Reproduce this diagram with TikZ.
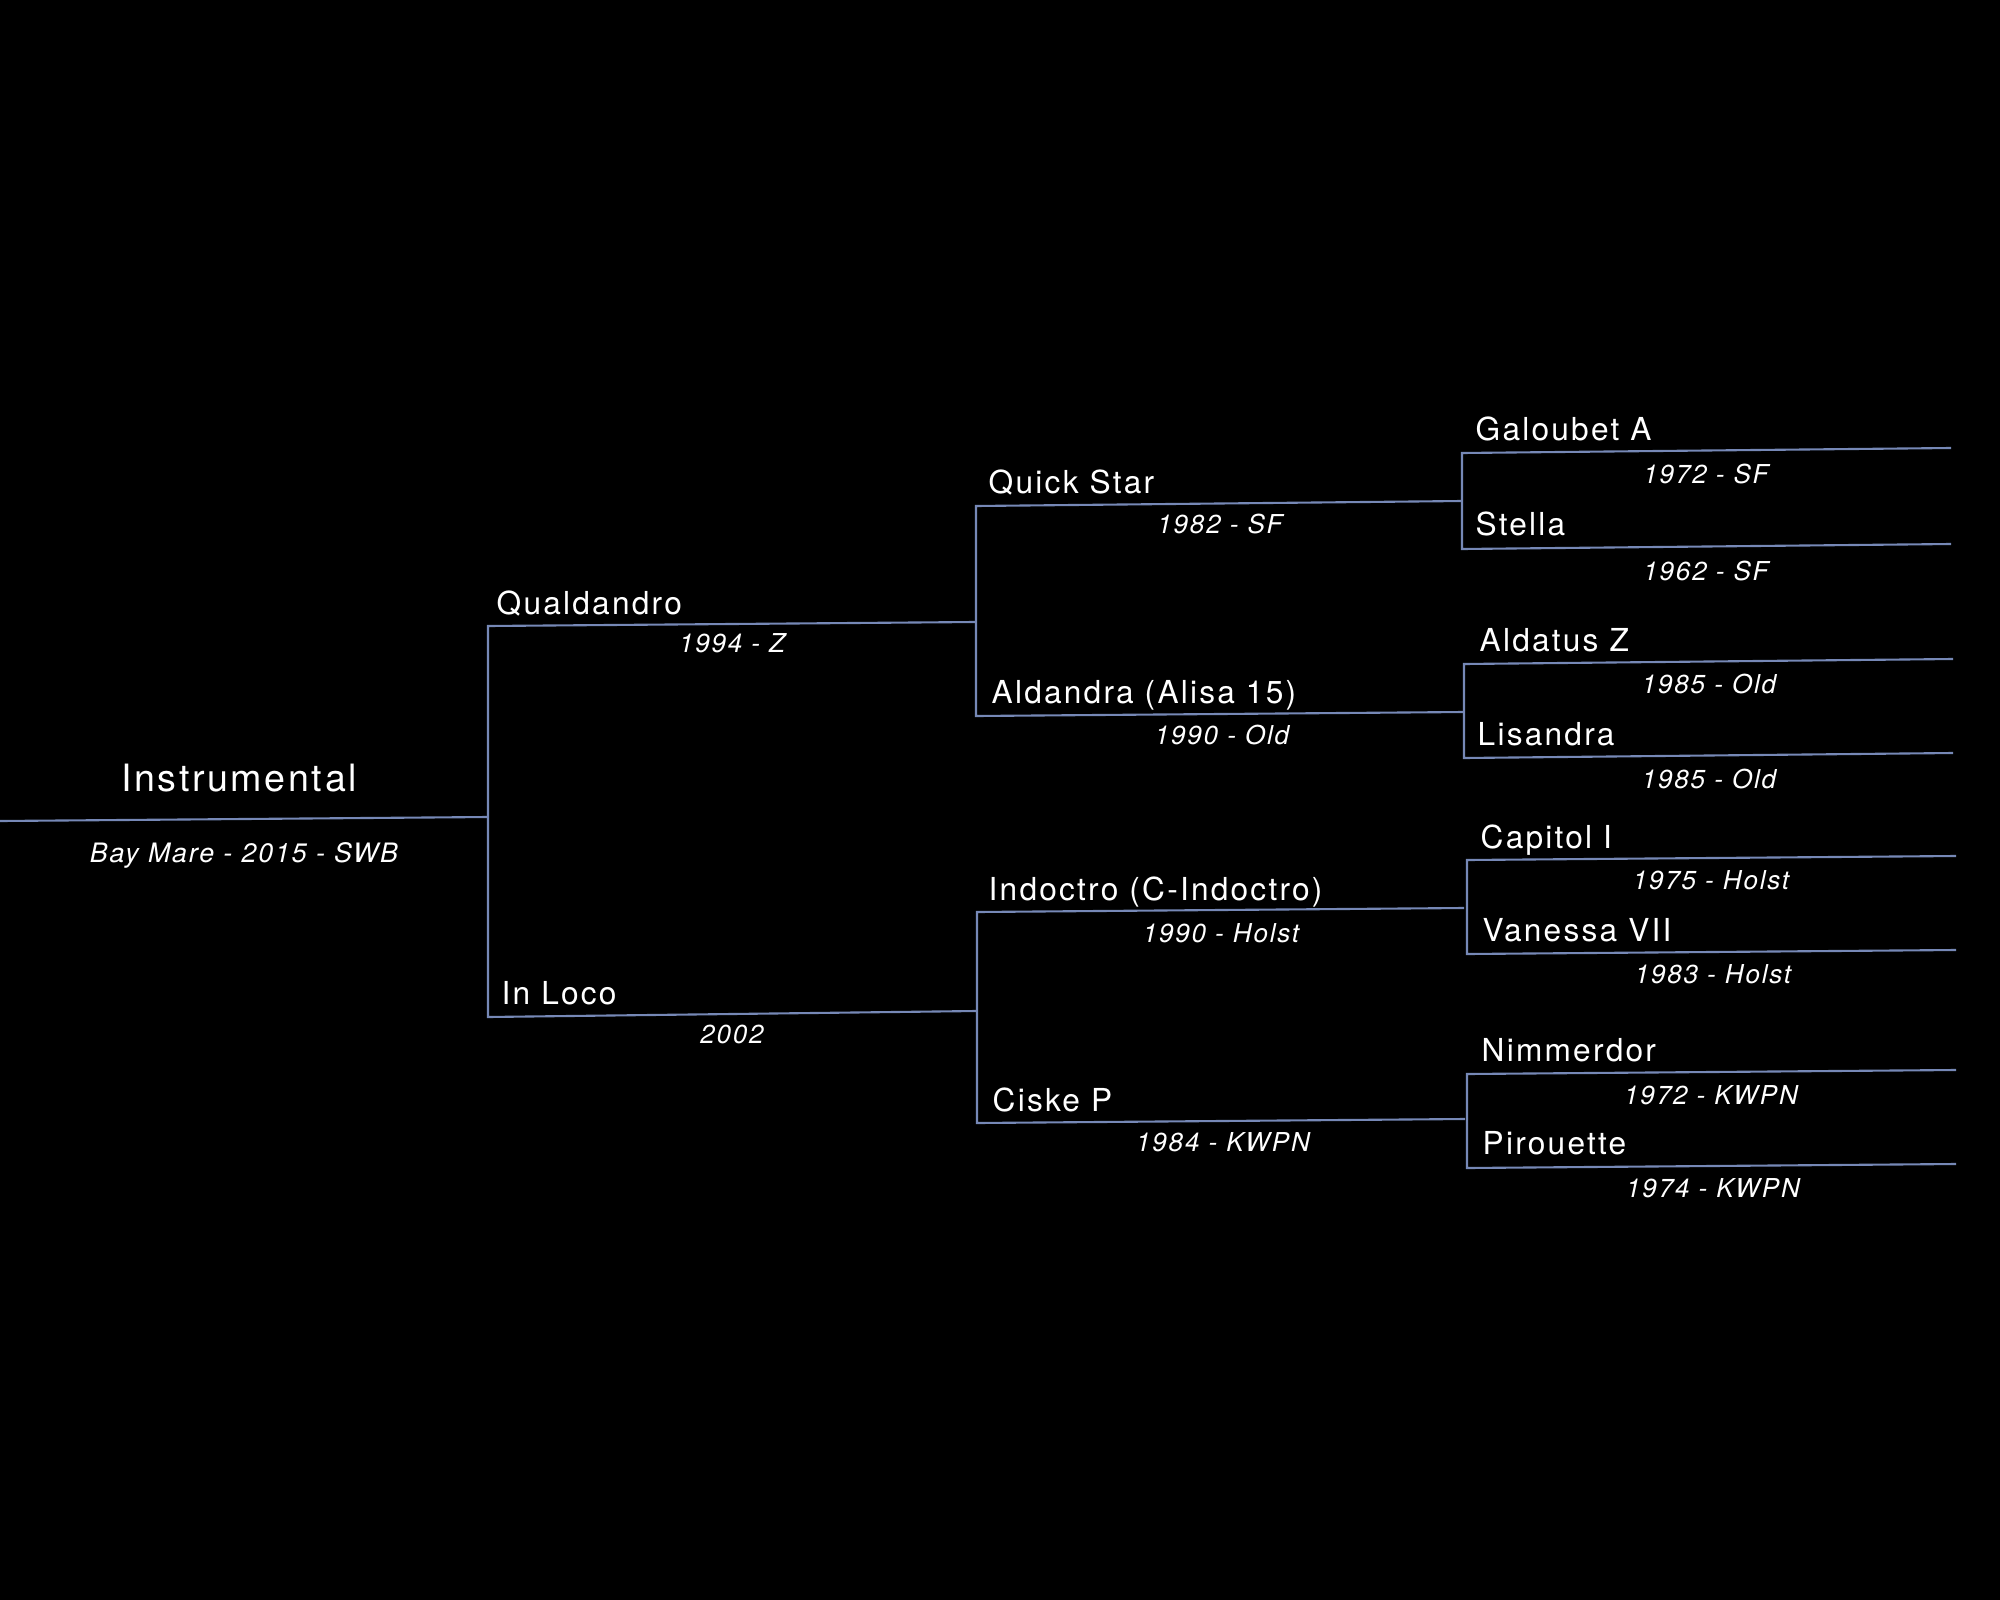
\documentclass[tikz,border=0pt]{standalone}
\usepackage{fontspec}
\setmainfont{TeX Gyre Heros}[LetterSpace=7]
\definecolor{treeline}{RGB}{118,136,182}
\tikzset{
    branch/.style={draw=treeline, line width=0.6pt},
    horse/.style={anchor=base west, inner sep=0pt, text=white, font=\fontsize{9}{11}\selectfont},
    info/.style={anchor=base, inner sep=0pt, text=white, font=\fontsize{7.4}{9}\selectfont\itshape},
}
\begin{document}
\begin{tikzpicture}[x=0.01cm, y=-0.01cm]
    % Background and page size
    \fill[black] (0,0) rectangle (2000,1600);
    \useasboundingbox (0,0) rectangle (2000,1600);

    % Line ends of every generation
    \coordinate (root-l) at (0,821);    \coordinate (root-r) at (488,817);
    \coordinate (qu-l) at (488,626);    \coordinate (qu-r) at (975,622);
    \coordinate (il-l) at (488,1017);   \coordinate (il-r) at (976,1011);
    \coordinate (qs-l) at (976,506);    \coordinate (qs-r) at (1462,501);
    \coordinate (al-l) at (976,716);    \coordinate (al-r) at (1464,712);
    \coordinate (in-l) at (977,912);    \coordinate (in-r) at (1464,908);
    \coordinate (cp-l) at (977,1123);   \coordinate (cp-r) at (1465,1119);
    \coordinate (ga-l) at (1462,453);   \coordinate (ga-r) at (1951,448);
    \coordinate (st-l) at (1462,549);   \coordinate (st-r) at (1951,544);
    \coordinate (ad-l) at (1464,664);   \coordinate (ad-r) at (1953,659);
    \coordinate (li-l) at (1464,758);   \coordinate (li-r) at (1953,753);
    \coordinate (ca-l) at (1467,860);   \coordinate (ca-r) at (1956,856);
    \coordinate (va-l) at (1467,954);   \coordinate (va-r) at (1956,950);
    \coordinate (ni-l) at (1467,1074);  \coordinate (ni-r) at (1956,1070);
    \coordinate (pi-l) at (1467,1168);  \coordinate (pi-r) at (1956,1164);

    % The horse itself
    \draw[branch] (root-l) -- (root-r);

    % Sire and dam brackets
    \foreach \s/\d in {qu/il, qs/al, in/cp, ga/st, ad/li, ca/va, ni/pi}
        {
            \draw[branch] (\s-r) -- (\s-l) -- (\d-l) -- (\d-r);
        }

    % Names and dates
    \node[anchor=base, inner sep=0pt, text=white, font=\fontsize{10.7}{12}\selectfont] (instrumental) at (239,791) {Instrumental};
    \node[info, font=\fontsize{7.6}{9}\selectfont\itshape] (instrumental-info) at (244,862) {Bay Mare - 2015 - SWB};

    \node[horse] (qualdandro) at (496,614) {Qualdandro};
    \node[info] (qualdandro-info) at (732,652) {1994 - Z};
    \node[horse] (inloco) at (501,1004) {In Loco};
    \node[info] (inloco-info) at (732,1043) {2002};

    \node[horse] (quickstar) at (988,493) {Quick Star};
    \node[info] (quickstar-info) at (1220,533) {1982 - SF};
    \node[horse] (aldandra) at (991,703) {Aldandra (Alisa 15)};
    \node[info] (aldandra-info) at (1222,744) {1990 - Old};
    \node[horse] (indoctro) at (988,900) {Indoctro (C-Indoctro)};
    \node[info] (indoctro-info) at (1221,942) {1990 - Holst};
    \node[horse] (ciskep) at (992,1111) {Ciske P};
    \node[info] (ciskep-info) at (1223,1151) {1984 - KWPN};

    \node[horse] (galoubet) at (1475,440) {Galoubet A};
    \node[info] (galoubet-info) at (1706,483) {1972 - SF};
    \node[horse] (stella) at (1475,535) {Stella};
    \node[info] (stella-info) at (1706,580) {1962 - SF};
    \node[horse] (aldatus) at (1479,651) {Aldatus Z};
    \node[info] (aldatus-info) at (1709,693) {1985 - Old};
    \node[horse] (lisandra) at (1477,745) {Lisandra};
    \node[info] (lisandra-info) at (1709,788) {1985 - Old};
    \node[horse] (capitol) at (1480,848) {Capitol I};
    \node[info] (capitol-info) at (1711,889) {1975 - Holst};
    \node[horse] (vanessa) at (1482,941) {Vanessa VII};
    \node[info] (vanessa-info) at (1713,983) {1983 - Holst};
    \node[horse] (nimmerdor) at (1481,1061) {Nimmerdor};
    \node[info] (nimmerdor-info) at (1711,1104) {1972 - KWPN};
    \node[horse] (pirouette) at (1482,1154) {Pirouette};
    \node[info] (pirouette-info) at (1713,1197) {1974 - KWPN};

\end{tikzpicture}
\end{document}
